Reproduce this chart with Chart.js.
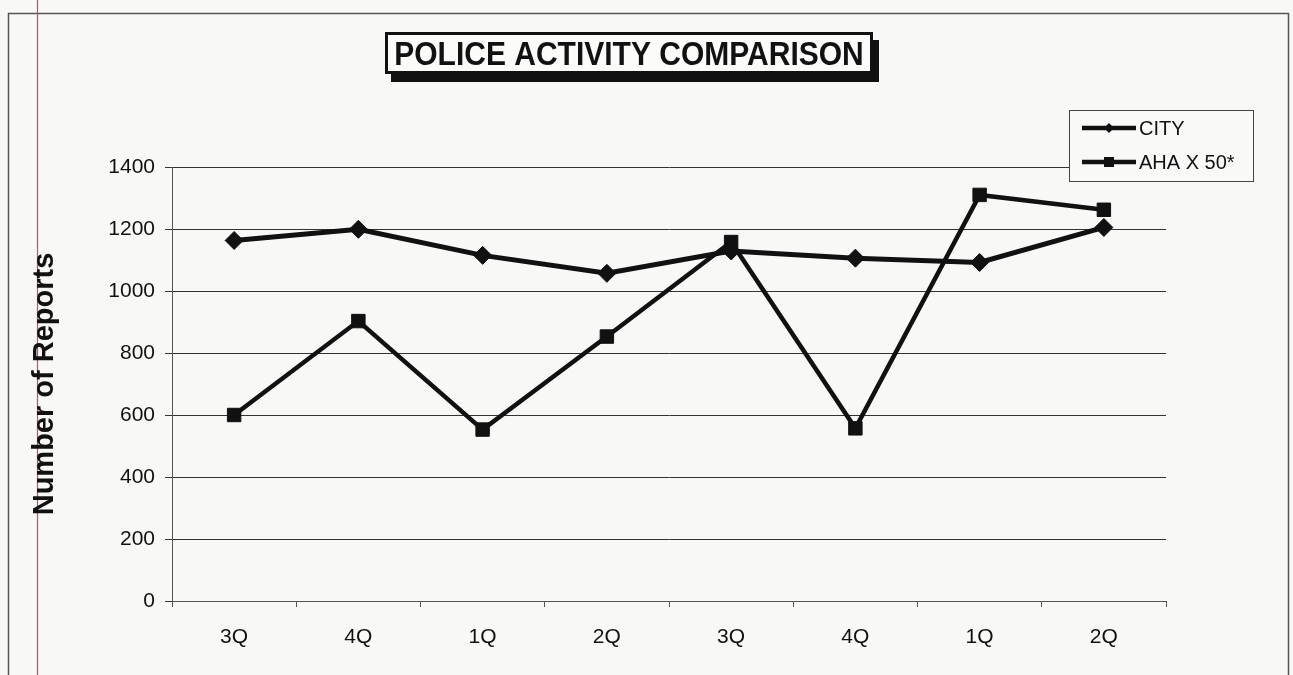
<!DOCTYPE html>
<html>
<head>
<meta charset="utf-8">
<script src="https://cdn.jsdelivr.net/npm/chart.js@4/dist/chart.umd.min.js"></script>
<style>
  html, body { margin: 0; padding: 0; background: #f8f8f7; }
  #wrap { position: relative; width: 1293px; height: 675px; }
  canvas { display: block; }
</style>
</head>
<body>
<div id="wrap"><canvas id="chart" width="1293" height="675"></canvas></div>
<script>
// Quarterly report counts
const quarters = ['3Q', '4Q', '1Q', '2Q', '3Q', '4Q', '1Q', '2Q'];
const cityReports = [1163, 1199, 1115, 1057, 1129, 1106, 1092, 1205];
const ahaReportsX50 = [600, 903, 553, 853, 1158, 557, 1310, 1262];
const seriesNames = ['CITY', 'AHA X 50*'];
const yTicks = [0, 200, 400, 600, 800, 1000, 1200, 1400];
const chartTitle = 'POLICE ACTIVITY COMPARISON';
const yAxisTitle = 'Number of Reports';

const INK = '#111111';
const FONT = 'Arial, "Liberation Sans", sans-serif';

// Page background, outer frame and the red margin rule
const pageFrame = {
  id: 'pageFrame',
  beforeDraw(chart) {
    const ctx = chart.ctx;
    ctx.save();
    ctx.fillStyle = '#f8f8f7';
    ctx.fillRect(0, 0, chart.width, chart.height);
    ctx.strokeStyle = '#555555';
    ctx.lineWidth = 1.5;
    ctx.beginPath();
    ctx.moveTo(8.5, chart.height + 5);
    ctx.lineTo(8.5, 13.5);
    ctx.lineTo(1288.5, 13.5);
    ctx.lineTo(1288.5, chart.height + 5);
    ctx.stroke();
    ctx.strokeStyle = '#e24848';
    ctx.lineWidth = 1.2;
    ctx.beginPath();
    ctx.moveTo(37.5, 0);
    ctx.lineTo(37.5, chart.height);
    ctx.stroke();
    ctx.restore();
  },
  // framed title with a drop shadow
  afterDraw(chart) {
    const ctx = chart.ctx;
    const bx = 385, by = 32, bw = 488, bh = 42;
    ctx.save();
    ctx.fillStyle = INK;
    ctx.fillRect(bx + 6, by + 8, bw, bh);
    ctx.fillStyle = '#fbfbfa';
    ctx.fillRect(bx, by, bw, bh);
    ctx.strokeStyle = INK;
    ctx.lineWidth = 3;
    ctx.strokeRect(bx + 1.5, by + 1.5, bw - 3, bh - 3);
    ctx.fillStyle = INK;
    ctx.font = 'bold 30px ' + FONT;
    ctx.textAlign = 'center';
    ctx.textBaseline = 'middle';
    ctx.translate(bx + bw / 2, by + bh / 2 + 3);
    ctx.scale(1, 1.1);
    ctx.fillText(chartTitle, 0, 0);
    ctx.restore();
  }
};

// Boxed legend in the upper right corner
const boxLegend = {
  id: 'boxLegend',
  afterDraw(chart) {
    const ctx = chart.ctx;
    const lx = 1069, ly = 110, lw = 184, lh = 71;
    ctx.save();
    ctx.fillStyle = '#f9f9f8';
    ctx.fillRect(lx, ly, lw, lh);
    ctx.strokeStyle = '#444444';
    ctx.lineWidth = 1;
    ctx.strokeRect(lx + 0.5, ly + 0.5, lw, lh);
    chart.data.datasets.forEach((ds, i) => {
      const y = ly + 18 + i * 34;
      ctx.strokeStyle = ds.borderColor;
      ctx.lineWidth = 4.5;
      ctx.beginPath();
      ctx.moveTo(1082, y);
      ctx.lineTo(1136, y);
      ctx.stroke();
      ctx.fillStyle = ds.borderColor;
      if (ds.pointStyle === 'rectRot') {
        ctx.beginPath();
        ctx.moveTo(1109 - 5, y);
        ctx.lineTo(1109, y - 5);
        ctx.lineTo(1109 + 5, y);
        ctx.lineTo(1109, y + 5);
        ctx.closePath();
        ctx.fill();
      } else {
        ctx.fillRect(1109 - 5, y - 5, 10, 10);
      }
      ctx.fillStyle = INK;
      ctx.font = '20px ' + FONT;
      ctx.textAlign = 'left';
      ctx.textBaseline = 'middle';
      ctx.fillText(ds.label, 1139, y + 1);
    });
    ctx.restore();
  }
};

new Chart(document.getElementById('chart'), {
  type: 'line',
  data: {
    labels: quarters,
    datasets: [
      {
        label: seriesNames[0],
        data: cityReports,
        borderColor: INK,
        backgroundColor: INK,
        borderWidth: 5,
        pointStyle: 'rectRot',
        pointRadius: 9,
        pointBorderWidth: 1,
        tension: 0
      },
      {
        label: seriesNames[1],
        data: ahaReportsX50,
        borderColor: INK,
        backgroundColor: INK,
        borderWidth: 4.5,
        pointStyle: 'rect',
        pointRadius: 9.5,
        pointBorderWidth: 1,
        tension: 0
      }
    ]
  },
  options: {
    responsive: false,
    animation: false,
    devicePixelRatio: 1,
    layout: { padding: { top: 167, right: 127, left: 0, bottom: 0 } },
    plugins: {
      legend: { display: false },
      title: { display: false },
      tooltip: { enabled: false }
    },
    scales: {
      x: {
        offset: true,
        afterFit(scale) { scale.height = 74; },
        grid: {
          offset: true,
          drawOnChartArea: false,
          drawTicks: true,
          tickLength: 6,
          color: '#555555',
          lineWidth: 1
        },
        border: { display: true, color: '#555555', width: 1 },
        ticks: {
          color: INK,
          padding: 18,
          maxRotation: 0,
          font: { family: FONT, size: 21 }
        }
      },
      y: {
        min: 0,
        max: 1400,
        afterFit(scale) { scale.width = 172; },
        afterBuildTicks(scale) { scale.ticks = yTicks.map(v => ({ value: v })); },
        grid: {
          color: '#333333',
          lineWidth: 1,
          tickLength: 7
        },
        border: { display: true, color: '#555555', width: 1 },
        ticks: {
          color: INK,
          padding: 10,
          callback: (v) => String(v),
          font: { family: FONT, size: 21 }
        },
        title: {
          display: true,
          text: yAxisTitle,
          color: INK,
          padding: { top: 28, bottom: 0 },
          font: { family: FONT, size: 29, weight: 'bold' }
        }
      }
    }
  },
  plugins: [pageFrame, boxLegend]
});
</script>
</body>
</html>
